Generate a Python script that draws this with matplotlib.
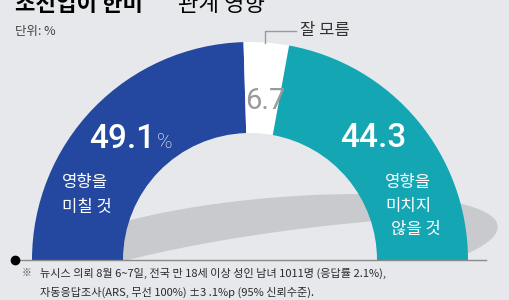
import numpy as np
import matplotlib.pyplot as plt
from matplotlib.patches import Polygon, Rectangle

plt.rcParams['font.family'] = ['Noto Sans CJK KR', 'DejaVu Sans']

# data
labels = ['영향을 미칠 것', '잘 모름', '영향을 미치지 않을 것']
values = [49.1, 6.7, 44.3]
colors = ['#2447a0', '#ffffff', '#14a6b3']

title_bold = '조선업이 한미'
title_rest = '관계 영향'
unit = '단위: %'
note1 = '뉴시스 의뢰 8월 6~7일, 전국 만 18세 이상 성인 남녀 1011명 (응답률 2.1%),'
note2 = '자동응답조사(ARS, 무선 100%) ±3 .1%p (95% 신뢰수준).'

BG = '#e6e8eb'
W, H = 510, 300
CX, CY, R = 250, 260, 218   # donut centre / radius in pixels
RIN = 127


def px(x, y):
    # pixel position (from top-left) -> data coords (radius units)
    return (x - CX) / R, (CY - y) / R


fig = plt.figure(figsize=(W / 100, H / 100), dpi=100, facecolor=BG)
ax = fig.add_axes([0, 0, 1, 1])
ax.set_facecolor(BG)

# shadow band behind the donut
def ellipse(c, a, b, phi, t):
    t = np.radians(t)
    p = np.radians(phi)
    x = a * np.cos(t)
    y = b * np.sin(t)
    return (c[0] + x * np.cos(p) - y * np.sin(p),
            c[1] + x * np.sin(p) + y * np.cos(p))

t1 = np.linspace(160, -40, 200)
ux, uy = ellipse((0.10, 0.065), 1.04, 0.22, 5, t1)
t2 = np.linspace(80, 135, 100)
lx, ly = ellipse((0.60, -0.17), 1.8, 0.35, 5, t2)
pts = np.column_stack([np.r_[ux, lx], np.r_[uy, ly]])
band = Polygon(pts, closed=True, facecolor='#c9cacd', edgecolor='none', zorder=1)
ax.add_patch(band)
band.set_clip_path(Rectangle((-3, 0), 6, 3, transform=ax.transData))

# half donut: the hidden bottom half takes the same total
wedges, _ = ax.pie(values + [sum(values)], colors=colors + ['none'],
                   startangle=180, counterclock=False, radius=1,
                   wedgeprops=dict(width=(R - RIN) / R, edgecolor='none'))
for w in wedges:
    w.set_zorder(2)

ax.set_xlim(-CX / R, (W - CX) / R)
ax.set_ylim(-(H - CY) / R, CY / R)
ax.set_aspect('equal')
ax.axis('off')

# numbers
num_font = dict(family=['Roboto', 'DejaVu Sans'], fontstretch='condensed')
ax.text(*px(155, 148), f'{values[0]}', color='white', fontsize=24,
        fontweight='medium', ha='right', va='baseline', zorder=5, **num_font)
ax.text(*px(157, 148), '%', color='white', fontsize=15, fontweight='light',
        ha='left', va='baseline', zorder=5, **num_font)
ax.text(*px(373, 147), f'{values[2]}', color='white', fontsize=24,
        fontweight='medium', ha='center', va='baseline', zorder=5, **num_font)
ax.text(*px(265, 109), f'{values[1]}', color='#9a9a9a', fontsize=21,
        ha='center', va='baseline', zorder=5, **num_font)

# labels
ax.text(*px(62, 183), '영향을', color='white', fontsize=12, ha='left', va='center', zorder=5)
ax.text(*px(62, 207), '미칠 것', color='white', fontsize=12, ha='left', va='center', zorder=5)
ax.text(*px(385, 183), '영향을', color='white', fontsize=12, ha='left', va='center', zorder=5)
ax.text(*px(385, 206), '미치지', color='white', fontsize=12, ha='left', va='center', zorder=5)
ax.text(*px(391, 229), '않을 것', color='white', fontsize=12, ha='left', va='center', zorder=5)

ax.text(*px(300, 31), labels[1], color='#333333', fontsize=12, ha='left', va='center')
lx0, ly0 = px(265, 43)
lx1, ly1 = px(265, 31)
lx2, ly2 = px(296, 31)
ax.plot([lx0, lx1, lx2], [ly0, ly1, ly2], color='#9a9a9a', lw=1, zorder=3)

# baseline
bx0, by0 = px(15, 260)
bx1, _ = px(486, 260)
ax.plot([bx0, bx1], [by0, by0], color='#8a8a8a', lw=1, zorder=6)
ax.plot([bx0], [by0], 'o', color='black', ms=6, zorder=7)

# title (cut at the top edge as in the source), unit, notes
fig.text(15 / W, 1 - 11 / H, title_bold, fontsize=16, fontweight='bold',
         color='black', ha='left', va='baseline')
fig.text(178 / W, 1 - 11 / H, title_rest, fontsize=16,
         color='black', ha='left', va='baseline')
fig.text(15 / W, 1 - 31 / H, unit, fontsize=9, color='#444444', ha='left', va='center')
fig.text(22 / W, 1 - 273 / H, '※', fontsize=7, color='#555555', ha='left', va='center')
fig.text(40 / W, 1 - 273 / H, note1, fontsize=8, color='#2a2a2a', ha='left', va='center')
fig.text(40 / W, 1 - 292 / H, note2, fontsize=8, color='#2a2a2a', ha='left', va='center')

fig.savefig('out.png', dpi=100, facecolor=BG)
